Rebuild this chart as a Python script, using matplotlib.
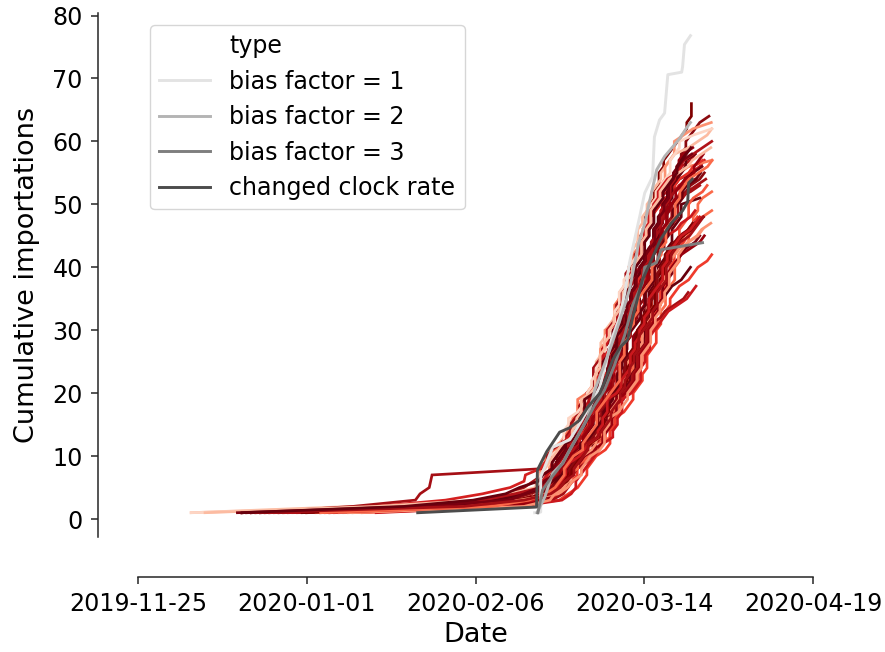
import matplotlib
matplotlib.use("Agg")
import matplotlib.pyplot as plt
from matplotlib.lines import Line2D

# ---------------- data (x = days since 2020-01-01, y = cumulative importations) -------------
tick_days = [-36.5, 0.0, 36.5, 73.0, 109.5]
tick_labels = ["2019-11-25", "2020-01-01", "2020-02-06", "2020-03-14", "2020-04-19"]

legend_labels = ["bias factor = 1", "bias factor = 2", "bias factor = 3", "changed clock rate"]

bias1_days = [49.3, 50.6, 50.6, 53.2, 56.9, 58.6, 61.6, 63.4, 64.9, 65.9, 67.7, 68.8, 69.8, 72.0,
              73.1, 74.8, 75.2, 76.3, 77.4, 78.1, 81.1, 81.3, 81.7, 83.0]
bias1_vals = [1, 1.1, 6.7, 11.4, 12.6, 14.6, 18.4, 21, 25.3, 28.5, 32.1, 35.9, 40.7, 48,
              51.8, 54.4, 60.7, 63.4, 64.5, 70.6, 71, 71.9, 75.4, 76.8]

bias2_days = [49.8, 51.5, 53.2, 55.4, 56.9, 59.7, 60.8, 62.3, 64.2, 66.0, 67.7, 69.8, 71.8, 72.9,
              75.7, 77.4, 80.5, 82.3, 83.0]
bias2_vals = [1, 3.5, 7.3, 8.9, 11, 14.6, 16.2, 20.5, 24.2, 27.8, 31.5, 36.4, 43.9, 46.4,
              55.5, 57.6, 60.3, 62.3, 63]

bias3_days = [50.0, 51.0, 52.5, 55.4, 56.9, 59.7, 62.3, 64.4, 66.6, 68.8, 70.5, 72.6, 73.1, 75.6,
              76.7, 85.6]
bias3_vals = [1, 4.6, 6.2, 8.9, 11, 14.6, 18.1, 20.5, 24.5, 29.3, 34, 37.5, 40, 40.7,
              42.8, 43.9]

clock_days = [24.0, 49.7, 49.9, 51.9, 54.7, 56.9, 59.0, 60.8, 63.4, 64.4, 66.2, 67.7, 69.4, 70.5,
              72.6, 74.4, 76.5, 78.8, 81.3, 82.4, 82.6, 83.4]
clock_vals = [1, 1.9, 7.8, 10.7, 13.8, 14.5, 15.7, 17.8, 20, 21.8, 25.3, 27.2, 28.5, 32,
              38, 40.9, 44.4, 47, 49, 50.4, 53.4, 54]

# simulated trajectories (red): early importation days, first day of the daily record,
# and importations per day from that day on (one digit per day)
red_early = [
    [-14, 20, 46], [-12, 25, 48], [-25, 10, 45], [-10, 30, 49], [0, 35, 50], [-5, 40, 49.5],
    [-14, 22, 40, 44, 47], [12, 47], [5, 40], [-3, 38, 48], [10, 45], [-13, 30, 50],
    [5, 42, 50], [-8, 35, 51], [-12, 10, 23.5, 24.5, 26.5, 26.8, 27.1], [-14, 38, 52],
    [-2, 44], [0, 40, 53], [-6, 15, 30, 38, 44, 47, 47.3], [15, 46], [8, 46],
    [-14, 25, 46, 50], [-25, 20, 48], [-10, 30, 49], [2, 43, 51], [-4, 41, 52],
    [-9, 36, 50], [6, 45, 51], [-11, 28, 49], [-7, 33, 50], [-14, 32, 49], [-6, 37, 51],
    [-12, 26, 48], [-5, 34, 48], [3, 44, 52], [9, 47],
    [-13, 28, 42, 47], [-9, 33, 44, 48], [-1, 36, 45], [-14, 18, 39, 46], [-12, 31, 43, 48],
    [-22, 15, 37, 44], [7, 35, 46], [-10, 29, 41, 47], [-8, 27, 38, 45], [4, 39, 49],
    [-15, 24, 44, 47], [3, 40, 48], [-11, 34, 47], [-14, 21, 36, 43, 46],
]
red_start = [50.2, 50.0, 49.6, 51.5, 52.0, 50.5, 49.0, 51.6, 50.0, 49.6, 51.5, 51.6,
             52.6, 52.0, 50.0, 53.0, 53.6, 54.5, 50.5, 55.2, 51.6, 51.0, 49.6, 50.5,
             52.6, 53.0, 51.0, 51.6, 51.0, 52.0, 51.5, 52.5, 50.0, 50.0, 53.0, 52.6,
             50.0, 51.3, 52.3, 50.8, 51.8, 49.4, 53.4, 51.2, 50.6, 52.0, 50.3, 51.7,
             52.8, 50.1]
red_daily = [
    "2110310212132231232412332232111123",
    "10212011021213023113324121322332211101",
    "232101121211143212313332221211100101011",
    "102121021131111323114322231324101",
    "11012021102230133222132241231211011",
    "21312011121225302311314322131301010001",
    "1010111013201121231322231120313100101",
    "0101102110111022301132311231321322101",
    "101011021110212130231133322123130001",
    "322010212301132314123222311101110100001",
    "0101011211021131111231321322211211",
    "01021111201112122223113231211101101",
    "01012011111022301332223113123131011",
    "1011021110112121112313211312111011",
    "012101121211412313231222311101111",
    "1012011102113111213222111110111",
    "01010112110132011212313212110111011",
    "01211011211310212313101101011",
    "110110212130231133322132211101101",
    "101211111102230113231111010111",
    "11012111201112121231322231211011101",
    "2121021131112530231133241101000101",
    "221201320112222313322132312113120010001",
    "102031102121301432123132132221100101",
    "101110211102230121322123132111011101",
    "11201112011121213231231131211011",
    "11021201320112123132223121110110110",
    "12211110223013322213221323121101101",
    "10111121021213041231231325303221",
    "10111210211311114322223132411011011",
    "1211112011121233222311341231101",
    "11012111021213012313213222110111",
    "10122111022301213223241123132121011",
    "12121201112122530132313322211011",
    "1011201101021230112313222311101011",
    "11011211013201122311312313111010110",
    "10112120111212132313322213222111201",
    "101111101320112222311231323113110101",
    "101012111102230113231213222111011",
    "101021110212130412312313222312110211",
    "01011111021131112311313231211101101",
    "121111102230133222132213231211010110101",
    "01011021101320112123132223121101101",
    "10101111201112123241123132223121011",
    "10121101320112123134123132313211010101",
    "1011210111022301213222311321110111",
    "1102111021213025302223121322321101",
    "1011211021131111432231131231321101011",
    "1011021120111212222311231321101111",
    "1102111022301231133322132312112111",
]
red_colors = ["#7f0000", "#8b0a10", "#fcbba1", "#99000d", "#cb181d", "#fc9272",
              "#a50f15", "#fb6a4a", "#67000d", "#fb7a5a", "#ef3b2c", "#99000d",
              "#f4553d", "#7a0010", "#a50f15", "#67000d", "#ef3b2c", "#a50f15",
              "#d42020", "#cb181d", "#fcae91", "#b11218", "#fdd5c4", "#70000e",
              "#fb6a4a", "#800010", "#cb181d", "#e32f27", "#67000d", "#8b0a10",
              "#a50f15", "#7f0000", "#b11218", "#cb181d", "#99000d", "#fc9272",
              "#67000d", "#a50f15", "#7f0000", "#99000d", "#8b0a10", "#fcbba1",
              "#fc9272", "#67000d", "#b11218", "#cb181d", "#7a0010", "#fb6a4a",
              "#a50f15", "#67000d"]


def cumulative_path(early, start, daily):
    """(time, rank) points of the importation events of one trajectory."""
    xs, ys = [], []
    c = 0
    for t in early:
        c += 1
        xs.append(t)
        ys.append(c)
    for i, ch in enumerate(daily):
        k = int(ch)
        if k == 0:
            continue
        t = start + i
        xs.append(t)
        ys.append(c + 1)
        if k > 1:
            xs.append(t)
            ys.append(c + k)
        c += k
    return xs, ys


# ---------------- figure ----------------
DPI = 100
fig = plt.figure(figsize=(8.85, 6.52), dpi=DPI)
ax = fig.add_axes([138 / 885, (652 - 537) / 652, (813 - 138) / 885, (537 - 13) / 652])

for e, s, d, c in zip(red_early, red_start, red_daily, red_colors):
    xs, ys = cumulative_path(e, s, d)
    ax.plot(xs, ys, color=c, lw=1.95, solid_joinstyle="miter")

gray_colors = ["#e3e3e3", "#b4b4b4", "#7e7e7e", "#4c4c4c"]
gray_days = [bias1_days, bias2_days, bias3_days, clock_days]
gray_vals = [bias1_vals, bias2_vals, bias3_vals, clock_vals]
handles = [Line2D([], [], color="none", label="type")]
for d, v, c, lab in zip(gray_days, gray_vals, gray_colors, legend_labels):
    ln, = ax.plot(d, v, color=c, lw=2.1, label=lab)
    handles.append(ln)

ax.set_xlim(-36.5, 109.5)
ax.set_ylim(-2.86, 80.4)
ax.set_xticks(tick_days)
ax.set_xticklabels(tick_labels)
ax.set_yticks([0, 10, 20, 30, 40, 50, 60, 70, 80])

for s in ["top", "right"]:
    ax.spines[s].set_visible(False)
for s in ["left", "bottom"]:
    ax.spines[s].set_position(("outward", 40 * 72 / DPI))
    ax.spines[s].set_linewidth(1.1)
    ax.spines[s].set_color("#262626")

ax.tick_params(axis="both", labelsize=17.1, length=5, width=1.1, color="#262626",
               pad=6, labelcolor="#000000")
ax.set_xlabel("Date", fontsize=19.5, labelpad=4)
ax.set_ylabel("Cumulative importations", fontsize=19.5, labelpad=9)

leg = ax.legend(handles=handles, loc="upper left", fontsize=17.1, frameon=True,
                handlelength=2.15, labelspacing=0.48)
leg.get_frame().set_edgecolor("#cccccc")

fig.savefig("out.png", dpi=DPI)
